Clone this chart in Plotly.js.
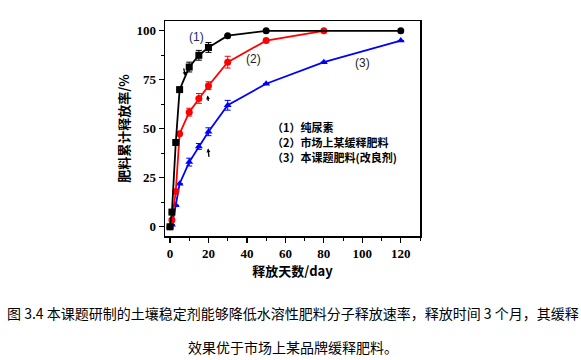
<!DOCTYPE html>
<html>
<head>
<meta charset="utf-8">
<script src="https://cdn.plot.ly/plotly-3.0.1.min.js"></script>
<style>
html,body{margin:0;padding:0;background:#fff;}
#chart{width:581px;height:360px;}
</style>
</head>
<body>
<div id="chart"></div>
<script>
// Data
const days1 = [0, 1, 3, 5, 10, 15, 20, 30, 50, 120];
const urea = [0, 7.5, 43, 70, 81.5, 87.5, 91.5, 97.5, 100, 100];
const ureaErr = [0, 0, 0, 0, 2.5, 2.5, 2.5, 0, 0, 0];
const ureaSymbols = ['square','square','square','square','square','square','square','circle','circle','circle'];

const days2 = [0, 1, 3, 5, 10, 15, 20, 30, 50, 80];
const market = [0, 3.5, 18, 47.5, 58.5, 65.5, 72, 84, 95, 100];
const marketErr = [0, 0, 0, 0, 2, 2.5, 2, 3, 0, 0];

const days3 = [0, 1, 3, 5, 10, 15, 20, 30, 50, 80, 120];
const ours = [0, 1, 11, 22, 33, 41, 48.5, 62, 73, 84, 95];
const oursErr = [0, 0, 0, 0, 2, 1.5, 2, 2.5, 0, 0, 0];

const seriesLabels = ['（1）纯尿素', '（2）市场上某缓释肥料', '（3）本课题肥料(改良剂)'];
const curveTags = ['(1)', '(2)', '(3)'];
const xTicks = [0, 20, 40, 60, 80, 100, 120];
const yTicks = [0, 25, 50, 75, 100];
const xTitle = '释放天数/day';
const yTitle = '肥料累计释放率/%';
const captionLines = ['图 3.4 本课题研制的土壤稳定剂能够降低水溶性肥料分子释放速率，释放时间 3 个月，其缓释', '效果优于市场上某品牌缓释肥料。'];

function series(x, y, err, color, symbol) {
  return {
    x: x, y: y, type: 'scatter', mode: 'lines+markers',
    line: {color: color, width: 1.8},
    marker: {color: color, size: 7, symbol: symbol},
    error_y: {type: 'data', array: err, visible: true, color: color, thickness: 1, width: 3},
    showlegend: false, hoverinfo: 'skip'
  };
}

const traces = [
  series(days3, ours, oursErr, '#0000ff', 'triangle-up'),
  series(days2, market, marketErr, '#ff0000', 'circle'),
  series(days1, urea, ureaErr, '#000000', ureaSymbols)
];

const serif = 'Liberation Serif, Times New Roman, serif';
const cjk = 'Noto Sans CJK SC';

const annotations = [
  {x: 14, y: 97, text: curveTags[0], showarrow: false, font: {family: 'Liberation Sans', size: 12, color: '#1a2a6a'}},
  {x: 43.5, y: 85.5, text: curveTags[1], showarrow: false, font: {family: 'Liberation Sans', size: 12, color: '#222'}},
  {x: 100, y: 83.5, text: curveTags[2], showarrow: false, font: {family: 'Liberation Sans', size: 12, color: '#222'}},
  {x: 52, y: 50.8, xanchor: 'left', text: '<b>' + seriesLabels[0] + '</b>', showarrow: false, font: {family: cjk, size: 11, color: '#000'}},
  {x: 52, y: 43.2, xanchor: 'left', text: '<b>' + seriesLabels[1] + '</b>', showarrow: false, font: {family: cjk, size: 11, color: '#000'}},
  {x: 52, y: 35.6, xanchor: 'left', text: '<b>' + seriesLabels[2] + '</b>', showarrow: false, font: {family: cjk, size: 11, color: '#000'}},
  // small arrows
  {x: 8, y: 77, ax: -2, ay: -9, text: '', showarrow: true, arrowhead: 2, arrowsize: 0.6, arrowwidth: 1.3, arrowcolor: '#000'},
  {x: 19.5, y: 67, ax: 1, ay: 7, text: '', showarrow: true, arrowhead: 2, arrowsize: 0.6, arrowwidth: 1.3, arrowcolor: '#000'},
  {x: 19.8, y: 40, ax: 1, ay: 10, text: '', showarrow: true, arrowhead: 2, arrowsize: 0.6, arrowwidth: 1.3, arrowcolor: '#000'},
  // caption
  {xref: 'paper', yref: 'paper', x: 0.5, y: -0.358, xanchor: 'center', yanchor: 'middle', text: captionLines[0], showarrow: false, font: {family: cjk, size: 14, color: '#000'}},
  {xref: 'paper', yref: 'paper', x: 0.5, y: -0.516, xanchor: 'center', yanchor: 'middle', text: captionLines[1], showarrow: false, font: {family: cjk, size: 14, color: '#000'}}
];

const layout = {
  width: 581, height: 360,
  margin: {l: 165, r: 161, t: 21, b: 124},
  paper_bgcolor: '#fff', plot_bgcolor: '#fff',
  xaxis: {
    range: [-2.6, 130], tickvals: xTicks, ticktext: xTicks.map(v => '<b>' + v + '</b>'),
    ticks: 'outside', ticklen: 5, tickwidth: 1.2, tickcolor: '#000',
    minor: {dtick: 10, ticks: 'outside', ticklen: 3, tickwidth: 1, tickcolor: '#000'},
    showline: true, linecolor: '#000', linewidth: 1.5, mirror: true,
    showgrid: false, zeroline: false,
    tickfont: {family: serif, size: 13, color: '#000'},
    title: {text: '<b>' + xTitle + '</b>', font: {family: cjk, size: 13, color: '#000'}, standoff: 4}
  },
  yaxis: {
    range: [-4.7, 105], tickvals: yTicks, ticktext: yTicks.map(v => '<b>' + v + '</b>'),
    ticks: 'outside', ticklen: 5, tickwidth: 1.2, tickcolor: '#000',
    minor: {dtick: 12.5, ticks: 'outside', ticklen: 3, tickwidth: 1, tickcolor: '#000'},
    showline: true, linecolor: '#000', linewidth: 1.5, mirror: true,
    showgrid: false, zeroline: false,
    tickfont: {family: serif, size: 13, color: '#000'},
    title: {text: '<b>' + yTitle + '</b>', font: {family: cjk, size: 13, color: '#000'}, standoff: 4}
  },
  annotations: annotations
};

Plotly.newPlot('chart', traces, layout, {displayModeBar: false, staticPlot: true});
</script>
</body>
</html>
